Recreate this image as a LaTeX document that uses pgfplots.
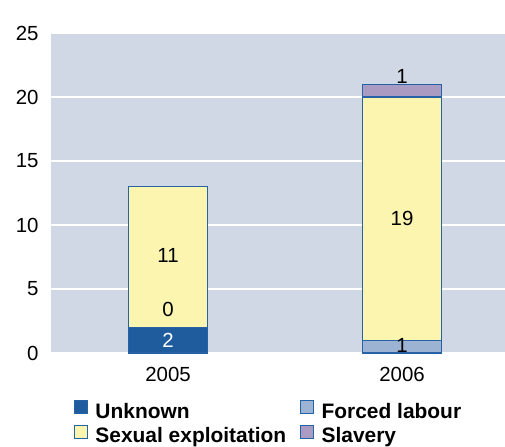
\documentclass[border=0pt]{standalone}
\usepackage{fontspec}
\setmainfont{Liberation Sans}
\usepackage{pgfplots}
\pgfplotsset{compat=1.18}
\definecolor{bgcol}{HTML}{D0D8E6}
\definecolor{cUnknown}{HTML}{1F5C9E}
\definecolor{cForced}{HTML}{9DB3D3}
\definecolor{cSexual}{HTML}{FBF5B0}
\definecolor{cSlavery}{HTML}{A99BC1}
\definecolor{cEdge}{HTML}{2563A6}
\begin{document}
\begin{tikzpicture}[font=\fontsize{20.5}{24}\selectfont]
\begin{axis}[
  scale only axis,
  width=454bp, height=320bp,
  ybar stacked,
  bar width=79bp,
  xmin=-0.5, xmax=1.44,
  ymin=0, ymax=25,
  ytick={0,5,10,15,20,25},
  xtick={0,1},
  xticklabels={2005,2006},
  /pgf/number format/assume math mode=true,
  axis background/.style={fill=bgcol},
  axis line style={draw=none},
  major tick length=0pt,
  ymajorgrids,
  grid style={white, line width=1.3pt},
  yticklabel style={anchor=east, xshift=-9bp},
  xticklabel style={anchor=center, yshift=-21bp},
  legend style={at={(23bp,-47bp)}, anchor=north west, draw=none, fill=none,
    inner sep=0pt, outer sep=0pt,
    font=\fontsize{21}{24}\selectfont\bfseries, row sep=0bp,
    nodes={inner xsep=3bp, inner ysep=2bp, text height=15bp, text depth=5bp},
    /tikz/every even column/.append style={column sep=11bp}},
  legend columns=2,
  legend cell align=left,
  legend image code/.code={\draw[#1, line width=1pt] (0bp,-0.5bp) rectangle (13bp,12.5bp);
    \path[draw=none, fill=none] (13bp,0bp) -- (18bp,0bp);},
  every axis plot/.append style={draw=cEdge, line width=1.3pt},
]
\addplot[fill=cUnknown] coordinates {(0,2) (1,0)};
\addlegendentry{Unknown}
\addplot[fill=cForced] coordinates {(0,0) (1,1)};
\addlegendentry{Forced labour}
\addplot[fill=cSexual] coordinates {(0,11) (1,19)};
\addlegendentry{Sexual exploitation}
\addplot[fill=cSlavery] coordinates {(0,0) (1,1)};
\addlegendentry{Slavery}
\coordinate (a) at (axis cs:0,1);
\coordinate (b) at (axis cs:0,3.4);
\coordinate (c) at (axis cs:0,7.65);
\coordinate (d) at (axis cs:1,0.55);
\coordinate (e) at (axis cs:1,10.5);
\coordinate (f) at (axis cs:1,21.6);
\end{axis}
\node[white] at (a) {2};
\node at (b) {0};
\node at (c) {11};
\node at (d) {1};
\node at (e) {19};
\node at (f) {1};
\pgfresetboundingbox
\path (current axis.south west) ++(-51bp,-94bp) rectangle ++(505bp,447bp);
\end{tikzpicture}
\end{document}
